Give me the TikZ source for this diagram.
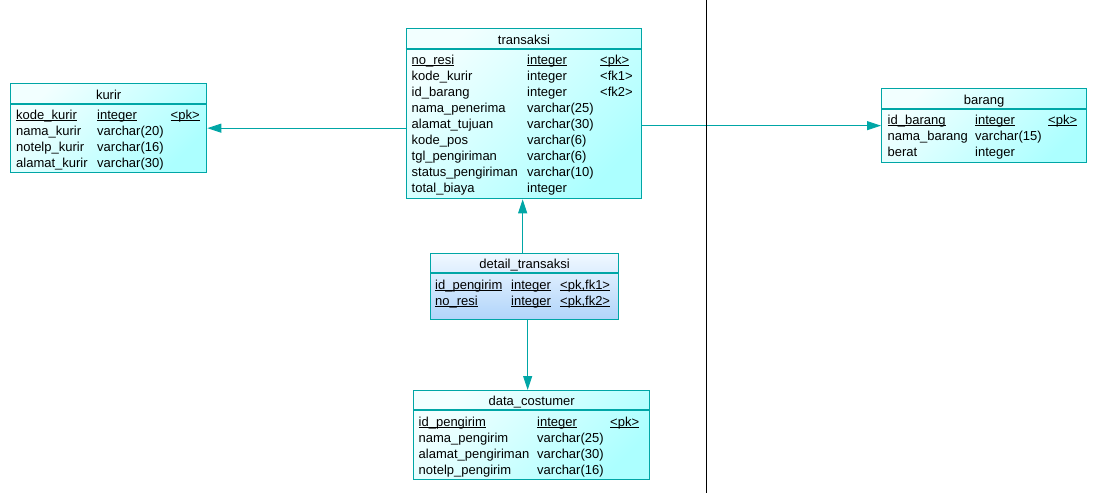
\documentclass[tikz,border=0pt]{standalone}
\usepackage{fontspec}
\setmainfont{Liberation Sans}
\usetikzlibrary{arrows.meta}
\definecolor{tblline}{RGB}{0,166,166}
\definecolor{tbllight}{RGB}{242,255,255}
\definecolor{tbldark}{RGB}{172,255,255}
\definecolor{detlight}{RGB}{240,248,255}
\definecolor{detdark}{RGB}{176,212,250}
\newcommand{\pkul}[1]{\underline{\smash{#1}}}
\tikzset{
  tbl/.style={draw=tblline, line width=1.3pt, anchor=north west, inner sep=0pt,
    top color=tbllight, bottom color=tbldark, shading angle=45},
  dettbl/.style={tbl, top color=detlight, bottom color=detdark},
  hdr/.style={draw=tblline, line width=1.3pt},
  cell/.style={anchor=base west, inner sep=0pt, font=\fontsize{13}{16}\selectfont},
  ttl/.style={cell, anchor=base},
  rel/.style={draw=tblline, line width=0.9pt, -{Triangle[length=14pt,width=9pt]}}
}

\begin{document}
\begin{tikzpicture}[x=1pt,y=-1pt]
\useasboundingbox (0,0) rectangle (1094,493);

\node[tbl, minimum width=196pt, minimum height=89pt] (kurir) at (10,83) {};
\draw[hdr] ([yshift=-21pt]kurir.north west) -- ([yshift=-21pt]kurir.north east);
\node[ttl] (kurir-t) at ([yshift=-16pt]kurir.north) {kurir};
\foreach \a/\b/\c [count=\i] in {\pkul{kode\_kurir}/\pkul{integer}/\pkul{<pk>},
    nama\_kurir/varchar(20)/{}, notelp\_kurir/varchar(16)/{}, alamat\_kurir/varchar(30)/{}}{
  \node[cell] (kurir-a\i) at (16,{103+16*\i}) {\a};
  \node[cell] (kurir-b\i) at (97,{103+16*\i}) {\b};
  \node[cell] (kurir-c\i) at (170.5,{103+16*\i}) {\c};
}

\node[tbl, minimum width=235.5pt, minimum height=170pt] (transaksi) at (405.5,28) {};
\draw[hdr] ([yshift=-21pt]transaksi.north west) -- ([yshift=-21pt]transaksi.north east);
\node[ttl] (transaksi-t) at ([yshift=-16pt]transaksi.north) {transaksi};
\foreach \a/\b/\c [count=\i] in {\pkul{no\_resi}/\pkul{integer}/\pkul{<pk>},
    kode\_kurir/integer/<fk1>, id\_barang/integer/<fk2>,
    nama\_penerima/varchar(25)/{}, alamat\_tujuan/varchar(30)/{}, kode\_pos/varchar(6)/{},
    tgl\_pengiriman/varchar(6)/{}, status\_pengiriman/varchar(10)/{}, total\_biaya/integer/{}}{
  \node[cell] (transaksi-a\i) at (411.5,{48+16*\i}) {\a};
  \node[cell] (transaksi-b\i) at (527,{48+16*\i}) {\b};
  \node[cell] (transaksi-c\i) at (600,{48+16*\i}) {\c};
}

\node[tbl, minimum width=205pt, minimum height=74pt] (barang) at (881,88) {};
\draw[hdr] ([yshift=-21pt]barang.north west) -- ([yshift=-21pt]barang.north east);
\node[ttl] (barang-t) at ([yshift=-16pt]barang.north) {barang};
\foreach \a/\b/\c [count=\i] in {\pkul{id\_barang}/\pkul{integer}/\pkul{<pk>},
    nama\_barang/varchar(15)/{}, berat/integer/{}}{
  \node[cell] (barang-a\i) at (887.5,{108+16*\i}) {\a};
  \node[cell] (barang-b\i) at (975,{108+16*\i}) {\b};
  \node[cell] (barang-c\i) at (1048,{108+16*\i}) {\c};
}

\node[dettbl, minimum width=188pt, minimum height=66pt] (detail) at (430,253) {};
\draw[hdr] ([yshift=-20pt]detail.north west) -- ([yshift=-20pt]detail.north east);
\node[ttl] (detail-t) at ([yshift=-15pt]detail.north) {detail\_transaksi};
\foreach \a/\b/\c [count=\i] in {\pkul{id\_pengirim}/\pkul{integer}/\pkul{<pk,fk1>},
    \pkul{no\_resi}/\pkul{integer}/\pkul{<pk,fk2>}}{
  \node[cell] (detail-a\i) at (435,{273+16*\i}) {\a};
  \node[cell] (detail-b\i) at (511,{273+16*\i}) {\b};
  \node[cell] (detail-c\i) at (560,{273+16*\i}) {\c};
}

\node[tbl, minimum width=236pt, minimum height=89pt] (costumer) at (413,390) {};
\draw[hdr] ([yshift=-20pt]costumer.north west) -- ([yshift=-20pt]costumer.north east);
\node[ttl] (costumer-t) at ([yshift=-15pt]costumer.north) {data\_costumer};
\foreach \a/\b/\c [count=\i] in {\pkul{id\_pengirim}/\pkul{integer}/\pkul{<pk>},
    nama\_pengirim/varchar(25)/{}, alamat\_pengiriman/varchar(30)/{}, notelp\_pengirim/varchar(16)/{}}{
  \node[cell] (costumer-a\i) at (418.5,{410+16*\i}) {\a};
  \node[cell] (costumer-b\i) at (537,{410+16*\i}) {\b};
  \node[cell] (costumer-c\i) at (610,{410+16*\i}) {\c};
}

\draw[rel] (kurir.east -| transaksi.west) -- (kurir.east);
\draw[rel] (transaksi.east |- barang.west) -- (barang.west);
\draw[rel] ([xshift=-2pt]detail.north) -- ([xshift=-2pt]detail.north |- transaksi.south);
\draw[rel] ([xshift=3pt]detail.south) -- ([xshift=3pt]detail.south |- costumer.north);

\draw[line width=0.9pt] (706,0) -- (706,493);
\end{tikzpicture}
\end{document}
